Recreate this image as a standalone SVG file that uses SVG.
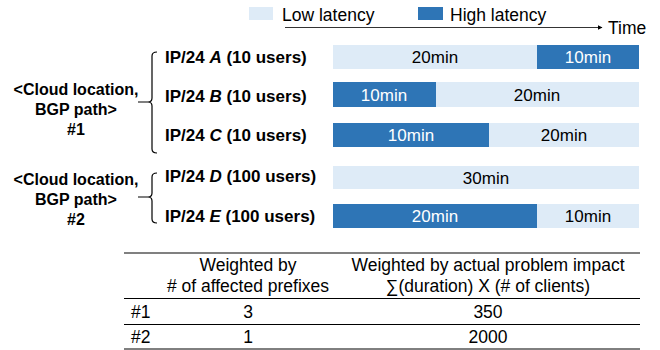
<svg xmlns="http://www.w3.org/2000/svg" width="660" height="350" viewBox="0 0 660 350">
<style>
text{font-family:"Liberation Sans",Arial,sans-serif;font-size:17px;fill:#000}
.b{font-weight:bold}
.i{font-style:italic}
.m{text-anchor:middle}
.w{fill:#fff}
.lo{fill:#DEEBF7}
.hi{fill:#2E75B6}
.br{fill:none;stroke:#000;stroke-width:1.2}
.l{font-size:16px}
.t{font-size:17.5px}
</style>
<defs>
<marker id="ah" viewBox="0 0 10 10" refX="9" refY="5" markerWidth="5" markerHeight="5" orient="auto" markerUnits="userSpaceOnUse"><path d="M0,0L10,5L0,10z" fill="#000"/></marker>
</defs>
<g id="legend">
<rect class="lo" x="249" y="7" width="24" height="13"/>
<text class="t" x="282" y="21">Low latency</text>
<rect class="hi" x="418" y="7" width="25" height="13"/>
<text class="t" x="450" y="21">High latency</text>
</g>
<g id="time-axis">
<line x1="285" y1="27.5" x2="602" y2="27.5" stroke="#000" stroke-width="0.8" marker-end="url(#ah)"/>
<text class="t" x="608" y="34">Time</text>
</g>
<g id="group1">
<text class="b m l" x="76" y="95">&lt;Cloud location,</text>
<text class="b m l" x="76" y="115">BGP path&gt;</text>
<text class="b m l" x="76" y="135">#1</text>
</g>
<g id="group2">
<text class="b m l" x="76" y="185">&lt;Cloud location,</text>
<text class="b m l" x="76" y="205">BGP path&gt;</text>
<text class="b m l" x="76" y="225">#2</text>
</g>
<g id="connectors">
<path class="br" d="M157,52 Q152,52 152,56 L152,98 Q152,102 148,102 L138,102 M148,102 Q152,102 152,106 L152,149 Q152,153 157,153"/>
<path class="br" d="M157,173 Q152,173 152,177 L152,193 Q152,197 148,197 L138,197 M148,197 Q152,197 152,201 L152,219 Q152,223 157,223"/>
</g>
<g id="prefixA">
<text class="b" x="165" y="63">IP/24 <tspan class="i">A</tspan> (10 users)</text>
<rect class="lo" x="333" y="45" width="204" height="24"/>
<rect class="hi" x="537" y="45" width="102" height="24"/>
<text class="m" x="435" y="63">20min</text>
<text class="m w" x="588" y="63">10min</text>
</g>
<g id="prefixB">
<text class="b" x="165" y="102">IP/24 <tspan class="i">B</tspan> (10 users)</text>
<rect class="hi" x="333" y="82" width="103" height="25"/>
<rect class="lo" x="436" y="82" width="203" height="25"/>
<text class="m w" x="384" y="101">10min</text>
<text class="m" x="537" y="101">20min</text>
</g>
<g id="prefixC">
<text class="b" x="165" y="141">IP/24 <tspan class="i">C</tspan> (10 users)</text>
<rect class="hi" x="333" y="123" width="156" height="24"/>
<rect class="lo" x="489" y="123" width="150" height="24"/>
<text class="m w" x="411" y="141">10min</text>
<text class="m" x="564" y="141">20min</text>
</g>
<g id="prefixD">
<text class="b" x="165" y="182">IP/24 <tspan class="i">D</tspan> (100 users)</text>
<rect class="lo" x="333" y="166" width="306" height="23"/>
<text class="m" x="486" y="184">30min</text>
</g>
<g id="prefixE">
<text class="b" x="165" y="222">IP/24 <tspan class="i">E</tspan> (100 users)</text>
<rect class="hi" x="333" y="204" width="204" height="24"/>
<rect class="lo" x="537" y="204" width="102" height="24"/>
<text class="m w" x="435" y="222">20min</text>
<text class="m" x="588" y="222">10min</text>
</g>
<g id="table">
<line x1="124" y1="253" x2="640" y2="253" stroke="#808080" stroke-width="2"/>
<line x1="124" y1="298.5" x2="640" y2="298.5" stroke="#000" stroke-width="1"/>
<line x1="124" y1="324.5" x2="640" y2="324.5" stroke="#000" stroke-width="1"/>
<line x1="124" y1="349" x2="640" y2="349" stroke="#000" stroke-width="1"/>
<text class="m t" x="248" y="271">Weighted by</text>
<text class="m t" x="248" y="292"># of affected prefixes</text>
<text class="m t" x="488" y="271">Weighted by actual problem impact</text>
<text class="m t" x="488" y="292">∑(duration) X (# of clients)</text>
<text class="t" x="131" y="318">#1</text>
<text class="m t" x="248" y="318">3</text>
<text class="m t" x="488" y="318">350</text>
<text class="t" x="131" y="343">#2</text>
<text class="m t" x="248" y="343">1</text>
<text class="m t" x="488" y="343">2000</text>
</g>
</svg>
